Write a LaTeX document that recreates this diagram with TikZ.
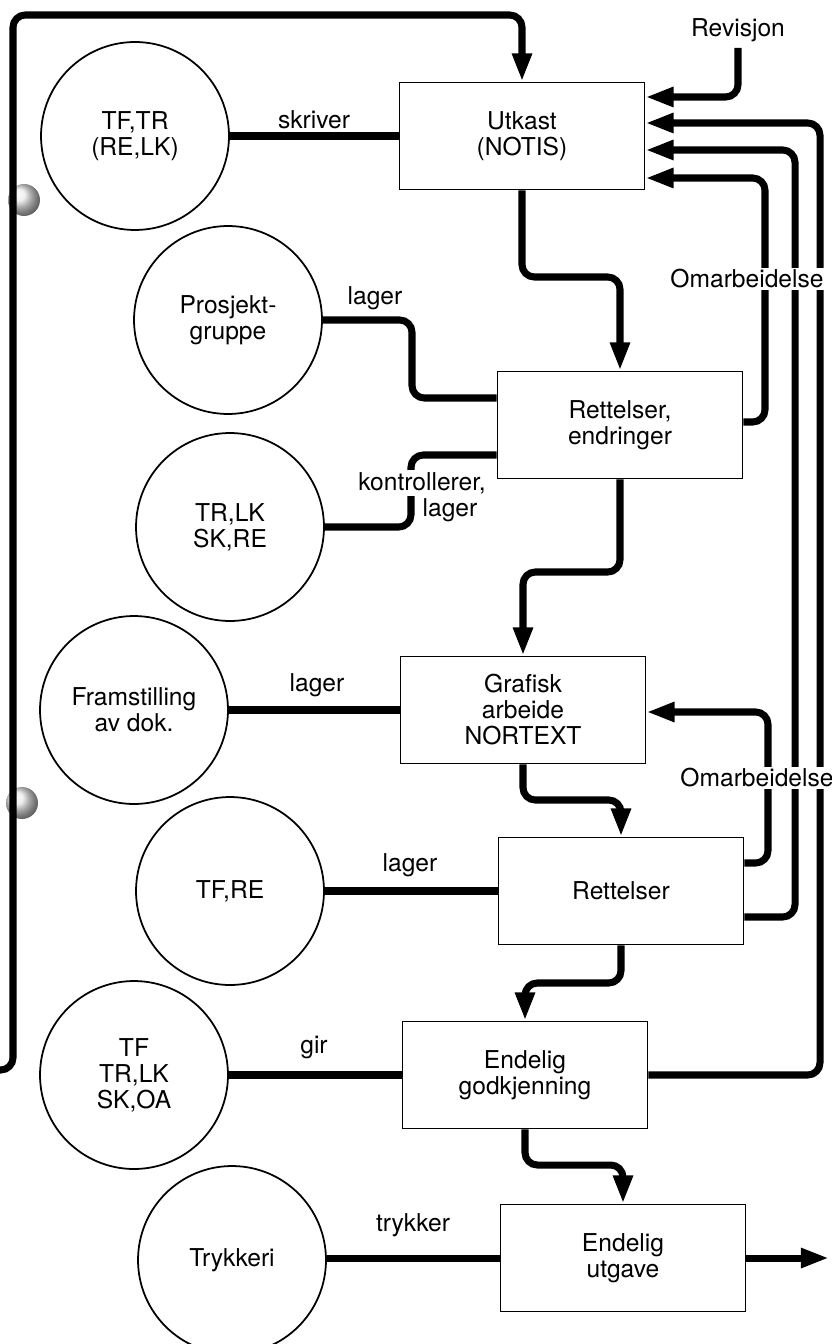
\documentclass[tikz,border=0pt]{standalone}
\usepackage{fontspec}
\setmainfont{TeX Gyre Heros}
\usetikzlibrary{arrows.meta}

\begin{document}
\begin{tikzpicture}[x=0.02cm,y=-0.02cm,
	font=\fontsize{14}{14.8}\selectfont,
	boks/.style={draw,line width=1.1pt,fill=white,minimum width=4.9cm,minimum height=2.14cm,align=center,inner sep=0pt},
	sirkel/.style={draw,circle,line width=1pt,fill=white,minimum size=3.76cm,align=center,inner sep=0pt},
	linje/.style={line width=4pt,rounded corners=7pt},
	pil/.style={linje,-{Triangle[length=16pt,width=10.5pt]}},
	tekst/.style={fill=white,inner sep=1pt}]
	\useasboundingbox (0,0) rectangle (831,1344);
	% ringer i permen
	\shade[ball color=white!92!black] (24,200) circle[radius=16];
	\shade[ball color=white!92!black] (22,803) circle[radius=16];
	\node[boks] (B1) at (522,136) {Utkast\\(NOTIS)};
	\node[boks] (B2) at (620,425) {Rettelser,\\endringer};
	\node[boks] (B3) at (523,710) {Grafisk\\arbeide\\NORTEXT};
	\node[boks] (B4) at (621,891) {Rettelser};
	\node[boks] (B5) at (525,1075) {Endelig\\godkjenning};
	\node[boks] (B6) at (623,1258) {Endelig\\utgave};
	\node[sirkel] (C1) at (135,136) {TF,TR\\(RE,LK)};
	\node[sirkel] (C2) at (228,320) {Prosjekt-\\gruppe};
	\node[sirkel] (C3) at (230,527) {TR,LK\\SK,RE};
	\node[sirkel] (C4) at (134,710) {Framstilling\\av dok.};
	\node[sirkel] (C5) at (230,891) {TF,RE};
	\node[sirkel] (C6) at (134,1075) {TF\\TR,LK\\SK,OA};
	\node[sirkel] (C7) at (232,1260) {Trykkeri};
	\node (REV) at (738,30) {Revisjon};
	\coordinate (INN) at (-12,1070);
	\coordinate (UT) at (829,1258);
	\draw[linje]
	(C1) edge (B1)
	(C4) edge (B3)
	(C5) edge (B4)
	(C6) edge (B5)
	(C7.east |- B6) edge (B6);
	\draw[linje] (C2.east) -| (412,398) -- (B2.west |- 0,398);
	\draw[linje] (C3.east) -| (411,455) -- (B2.west |- 0,455);
	% hovedflyt
	\draw[pil] (B1.south) -- (B1.south |- 0,277) -| (B2.north);
	\draw[pil] (B2.south) -- (B2.south |- 0,572) -| (B3.north);
	\draw[pil] (B3.south) -- (B3.south |- 0,800) -| (B4.north);
	\draw[pil] (B4.south) -- (B4.south |- 0,983) -| (B5.north);
	\draw[pil] (B5.south) -- (B5.south |- 0,1165) -| (B6.north);
	\draw[pil] (B6.east) -- (UT);
	% tilbake til utkast
	\draw[pil] (INN) -| (13,15) -| (B1.north);
	\draw[pil] (REV.south) |- (B1.east |- 0,97);
	\draw[pil] (B5.east) -| (820,123) -- (B1.east |- 0,123);
	\draw[pil] (B4.east |- 0,917) -| (795,150) -- (B1.east |- 0,150);
	\draw[pil] (B2.east |- 0,422) -| (765,178) -- (B1.east |- 0,178);
	\draw[pil] (B4.east |- 0,863) -| (768,712) -- (B3.east |- 0,712);
	\node[tekst] (O1) at (747,279) {Omarbeidelse};
	\node[tekst] (O2) at (757,778) {Omarbeidelse};
	\node (L1) at (314,120) {skriver};
	\node (L2) at (375,298) {lager};
	\node[tekst] (L3) at (422,483) {kontrollerer,};
	\node (L4) at (450,510) {lager};
	\node (L5) at (317,685) {lager};
	\node (L6) at (410,865) {lager};
	\node (L7) at (314,1047) {gir};
	\node (L8) at (413,1225) {trykker};
\end{tikzpicture}
\end{document}
